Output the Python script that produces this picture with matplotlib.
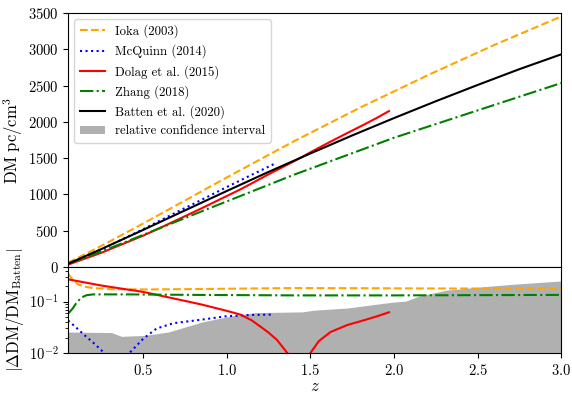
import numpy as np
import matplotlib
matplotlib.use("Agg")
import matplotlib.pyplot as plt
from matplotlib.patches import Patch

plt.rcParams["font.family"] = "serif"
plt.rcParams["font.serif"] = ["cmr10"]
plt.rcParams["mathtext.fontset"] = "cm"
plt.rcParams["axes.formatter.use_mathtext"] = True
plt.rcParams["axes.unicode_minus"] = False

# Batten et al. (2020) reference DM(z)
z_batten = [0.05, 0.25, 0.5, 0.75, 1.0, 1.25, 1.5, 1.75, 2.0, 2.25, 2.5, 2.75, 3.0]
dm_batten = [45, 248, 512, 781, 1048, 1311, 1565, 1813, 2052, 2284, 2508, 2726, 2930]

# signed relative deviation (DM - DM_Batten) / DM_Batten of each model
z_ioka = [0.05, 0.08, 0.11, 0.15, 0.2, 0.3, 0.5, 0.8, 1.0, 1.4, 1.8, 2.2, 2.6, 3.0]
rel_ioka = [0.35, 0.26, 0.215, 0.195, 0.183, 0.175, 0.172, 0.175, 0.178, 0.183,
            0.182, 0.18, 0.179, 0.178]

z_mcquinn = [0.05, 0.1, 0.15, 0.2, 0.267, 0.3, 0.34, 0.38, 0.417, 0.5, 0.58,
             0.68, 0.85, 1.0, 1.15, 1.28]
rel_mcquinn = [-0.043, -0.031, -0.022, -0.016, -0.01, -0.006, 0.0, 0.005, 0.01,
               0.019, 0.03, 0.038, 0.0446, 0.052, 0.055, 0.056]

z_dolag = [0.05, 0.25, 0.5, 0.65, 0.75, 0.85, 1.0, 1.08, 1.15, 1.245, 1.3, 1.365,
           1.4, 1.44, 1.47, 1.5, 1.55, 1.62, 1.72, 1.82, 1.9, 1.97]
rel_dolag = [-0.271, -0.205, -0.154, -0.121, -0.103, -0.0875, -0.066, -0.056,
             -0.043, -0.0256, -0.018, -0.0097, -0.006, 0.0, 0.005, 0.01, 0.017,
             0.0256, 0.035, 0.0433, 0.052, 0.062]

z_zhang = [0.05, 0.08, 0.1, 0.13, 0.16, 0.2, 0.4, 0.8, 1.4, 2.0, 3.0]
rel_zhang = [-0.058, -0.075, -0.095, -0.12, -0.133, -0.138, -0.138, -0.135,
             -0.132, -0.132, -0.135]

# upper edge of the relative confidence interval
z_ci = [0.05, 0.31, 0.37, 0.51, 0.65, 0.75, 0.85, 0.95, 1.05, 1.17, 1.45, 1.52,
        1.72, 1.92, 2.0, 2.07, 2.15, 2.31, 2.51, 2.71, 3.0]
ci_upper = [0.0256, 0.025, 0.0211, 0.022, 0.0256, 0.032, 0.040, 0.0467, 0.054,
            0.061, 0.063, 0.068, 0.075, 0.091, 0.098, 0.102, 0.128, 0.166, 0.192,
            0.217, 0.252]

models = [
    ("Ioka (2003)", z_ioka, rel_ioka, "orange", "--"),
    ("McQuinn (2014)", z_mcquinn, rel_mcquinn, "blue", ":"),
    ("Dolag et al. (2015)", z_dolag, rel_dolag, "red", "-"),
    ("Zhang (2018)", z_zhang, rel_zhang, "green", "-."),
]

fig, (ax1, ax2) = plt.subplots(
    2, 1, figsize=(5.72, 3.94), dpi=100, sharex=True,
    gridspec_kw={"height_ratios": [254, 86], "hspace": 0.0},
)
fig.subplots_adjust(left=0.119, right=0.981, top=0.967, bottom=0.104)

for label, z, rel, color, ls in models:
    z = np.array(z)
    rel = np.array(rel)
    dm = np.interp(z, z_batten, dm_batten) * (1 + rel)
    ax1.plot(z, dm, color=color, ls=ls, lw=1.5, label=label)
    ax2.plot(z, np.abs(rel), color=color, ls=ls, lw=1.5)

ax1.plot(z_batten, dm_batten, color="k", lw=1.5, label="Batten et al. (2020)")
ax2.fill_between(z_ci, 1e-4, ci_upper, color="0.69", lw=0)

handles, labels = ax1.get_legend_handles_labels()
handles.append(Patch(facecolor="0.69", edgecolor="none"))
labels.append("relative confidence interval")
ax1.legend(handles, labels, loc="upper left", fontsize=9.2)

ax1.set_ylim(0, 3500)
ax1.set_xlim(0.05, 3.0)
ax1.set_yticks(np.arange(0, 3501, 500))
ax1.set_ylabel(r"$\mathrm{DM}\ \mathrm{pc}/\mathrm{cm}^3$", fontsize=12, labelpad=2)
ax1.tick_params(labelsize=10.5, bottom=False)

ax2.set_yscale("log")
ax2.set_ylim(0.01, 0.47)
ax2.set_xticks([0.5, 1.0, 1.5, 2.0, 2.5, 3.0])
ax2.set_xlabel(r"$z$", fontsize=12, labelpad=1)
ax2.set_ylabel(r"$|\Delta\mathrm{DM}/\mathrm{DM}_{\mathrm{Batten}}|$", fontsize=12,
               labelpad=2)
ax2.tick_params(labelsize=10.5)

fig.savefig("out.png", dpi=100)
